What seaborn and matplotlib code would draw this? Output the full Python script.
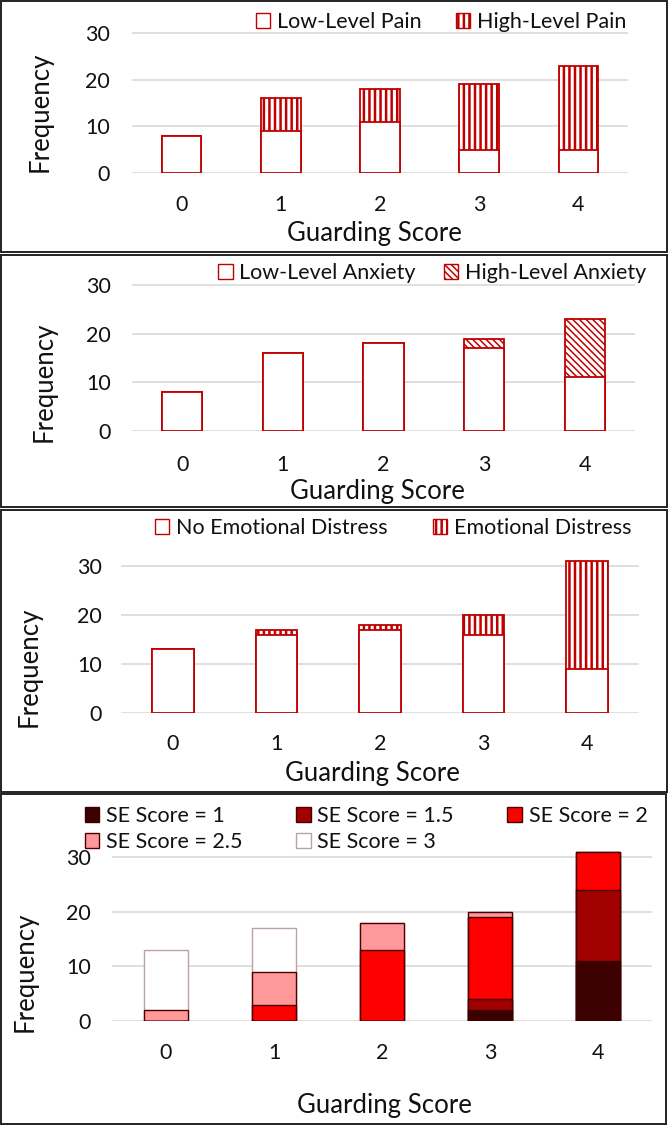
import matplotlib
matplotlib.use("Agg")
import matplotlib.pyplot as plt
from matplotlib.patches import Patch, Rectangle
import numpy as np
import seaborn as sns

# guarding score categories
scores = ["0", "1", "2", "3", "4"]

# panel 1: pain
pain_low = [8, 9, 11, 5, 5]
pain_high = [0, 7, 7, 14, 18]

# panel 2: anxiety
anx_low = [8, 16, 18, 17, 11]
anx_high = [0, 0, 0, 2, 12]

# panel 3: emotional distress
distress_no = [13, 16, 17, 16, 9]
distress_yes = [0, 1, 1, 4, 22]

# panel 4: self-efficacy scores
se_1 = [0, 0, 0, 2, 11]
se_1_5 = [0, 0, 0, 2, 13]
se_2 = [0, 3, 13, 15, 7]
se_2_5 = [2, 6, 5, 1, 0]
se_3 = [11, 8, 0, 0, 0]

y_ticks = [0, 10, 20, 30]

sns.set_theme(style="white")
plt.rcParams["font.family"] = ["Lato", "DejaVu Sans"]
plt.rcParams["hatch.linewidth"] = 1.8

W, H = 668, 1126
fig = plt.figure(figsize=(W / 100, H / 100), dpi=100)

RED = "#c00000"
TEXT = "#111111"
TICK_FS = 15.5
LABEL_FS = 18.5


def px(x, y):
    return x / W, 1 - y / H


def make_axes(x0, x1, y0, y30):
    # y0 / y30: pixel rows of value 0 and value 30, axis runs to 35
    ytop = y0 - 35 * (y0 - y30) / 30
    return fig.add_axes([x0 / W, 1 - y0 / H, (x1 - x0) / W, (y0 - ytop) / H])


def style_axes(ax, ypad, xpad, xlab_pos, ylab_pos):
    ax.set_ylim(0, 35)
    ax.set_xlim(-0.5, 4.5)
    ax.set_yticks(y_ticks)
    for s in ax.spines.values():
        s.set_visible(False)
    ax.yaxis.grid(True, color="#d9d9d9", linewidth=1.2)
    ax.xaxis.grid(False)
    ax.set_axisbelow(True)
    ax.tick_params(axis="y", length=0, pad=ypad, labelsize=TICK_FS, labelcolor=TEXT)
    ax.tick_params(axis="x", length=0, pad=xpad, labelsize=TICK_FS, labelcolor=TEXT)
    ax.set_xlabel("Guarding Score", fontsize=LABEL_FS, color=TEXT)
    ax.set_ylabel("Frequency", fontsize=LABEL_FS, color=TEXT)
    ax.xaxis.set_label_coords(*px(*xlab_pos), transform=fig.transFigure)
    ax.yaxis.set_label_coords(*px(*ylab_pos), transform=fig.transFigure)
    ax.xaxis.label.set_va("center")
    ax.yaxis.label.set_va("center")


def stacked(ax, series, colors, edges, hatches, lw):
    # draw cumulative totals from the top down so lower segments cover upper ones
    cum = np.cumsum(np.array(series), axis=0)
    for i in range(len(series) - 1, -1, -1):
        sns.barplot(x=scores, y=cum[i], order=scores, ax=ax, color=colors[i],
                    edgecolor=edges[i], linewidth=lw, hatch=hatches[i],
                    width=0.4, saturation=1, errorbar=None)


def add_legend(ax, labels, colors, edges, hatches, center, ncol, colspace,
               order=None, rowspace=0.12):
    handles = [Patch(facecolor=c, edgecolor=e, hatch=h, linewidth=1.0)
               for c, e, h in zip(colors, edges, hatches)]
    if order is not None:
        handles = [handles[i] for i in order]
        labels = [labels[i] for i in order]
    ax.legend(handles, labels, loc="center", bbox_to_anchor=px(*center),
              bbox_transform=fig.transFigure, ncol=ncol, frameon=False,
              fontsize=TICK_FS, handlelength=0.68, handleheight=0.68,
              handletextpad=0.3, columnspacing=colspace, borderpad=0,
              labelspacing=rowspace, labelcolor=TEXT)


# panel 1
ax1 = make_axes(132, 628, 173, 33)
stacked(ax1, [pain_low, pain_high], ["white", "white"], [RED, RED], [None, "|||"], 1.3)
style_axes(ax1, 16, 16, (374, 233), (40, 112))
add_legend(ax1, ["Low-Level Pain", "High-Level Pain"], ["white", "white"], [RED, RED],
           [None, "|||"], (441, 22), 2, 1.6)

# panel 2
ax2 = make_axes(132, 635, 431, 285)
with plt.rc_context({"hatch.linewidth": 1.1}):
    stacked(ax2, [anx_low, anx_high], ["white", "white"], [RED, RED], [None, "\\\\\\\\\\"], 1.3)
    add_legend(ax2, ["Low-Level Anxiety", "High-Level Anxiety"], ["white", "white"], [RED, RED],
               [None, "\\\\\\\\\\"], (432, 273), 2, 1.3)
style_axes(ax2, 15, 17, (377, 492), (44, 382))

# panel 3
ax3 = make_axes(121, 639, 713, 566)
stacked(ax3, [distress_no, distress_yes], ["white", "white"], [RED, RED], [None, "|||"], 1.3)
style_axes(ax3, 14, 15, (372, 773), (29, 667))
add_legend(ax3, ["No Emotional Distress", "Emotional Distress"], ["white", "white"], [RED, RED],
           [None, "|||"], (393, 528), 2, 2.1)

# panel 4
se_labels = ["SE Score = 1", "SE Score = 1.5", "SE Score = 2", "SE Score = 2.5", "SE Score = 3"]
se_colors = ["#3d0000", "#a00000", "#ff0000", "#ff9999", "white"]
se_edges = ["#3d0000", "#4a0000", "#4a0000", "#4a0000", "#b9a3a3"]
ax4 = make_axes(112, 652, 1021, 857)
stacked(ax4, [se_1, se_1_5, se_2, se_2_5, se_3], se_colors, se_edges, [None] * 5, 1.0)
style_axes(ax4, 15, 16, (384, 1105), (25, 972))
add_legend(ax4, se_labels, se_colors, se_edges, [None] * 5, (366, 829), 3, 2.5,
           order=[0, 3, 1, 4, 2], rowspace=0.3)

# panel frames
for (x0, y0, x1, y1) in [(1, 1, 667, 252), (1, 255, 667, 507),
                         (1, 510, 667, 792), (1, 794, 666, 1124)]:
    fig.add_artist(Rectangle((x0 / W, 1 - y1 / H), (x1 - x0) / W, (y1 - y0) / H,
                             transform=fig.transFigure, fill=False,
                             edgecolor="#222222", linewidth=1.4))

fig.savefig("out.png", dpi=100)
